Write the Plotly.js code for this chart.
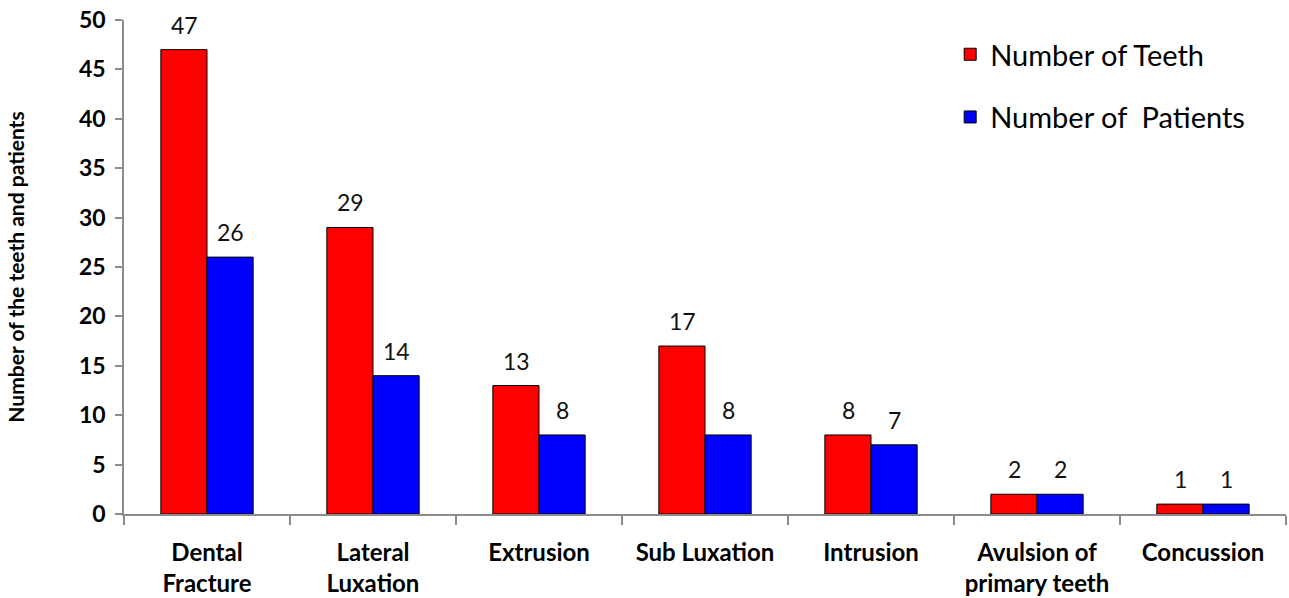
<!DOCTYPE html>
<html><head><meta charset="utf-8">
<script src="https://cdn.plot.ly/plotly-3.0.1.min.js"></script>
<style>body{margin:0;background:#fff}#chart{width:1289px;height:598px}</style>
</head><body><div id="chart"></div>
<script>
const categories = ["Dental<br>Fracture","Lateral<br>Luxation","Extrusion","Sub Luxation","Intrusion","Avulsion of<br>primary teeth","Concussion"];
const teeth = [47, 29, 13, 17, 8, 2, 1];
const patients = [26, 14, 8, 8, 7, 2, 1];
const seriesNames = ["Number of Teeth", "Number of  Patients"];
const yTicks = [0,5,10,15,20,25,30,35,40,45,50];

const FONT = "Lato, 'Open Sans', sans-serif";
const traces = [
  {type:'bar', x:categories, y:teeth, name:seriesNames[0], legendgroup:'a',
   marker:{color:'#ff0000', line:{color:'#000', width:1}}},
  {type:'bar', x:categories, y:patients, name:seriesNames[1], legendgroup:'b',
   marker:{color:'#0000ff', line:{color:'#000', width:1}}}
];
const annotations = [];
categories.forEach((c,i)=>{
  annotations.push({x:c, y:teeth[i], xref:'x', yref:'y', text:String(teeth[i]), showarrow:false,
    yanchor:'bottom', yshift:9, xshift:-23, font:{size:23, color:'#111', family:FONT}});
  annotations.push({x:c, y:patients[i], xref:'x', yref:'y', text:String(patients[i]), showarrow:false,
    yanchor:'bottom', yshift:9, xshift:23, font:{size:23, color:'#111', family:FONT}});
});
const layout = {
  width:1289, height:598,
  margin:{l:124, r:3, t:20, b:84},
  paper_bgcolor:'#fff', plot_bgcolor:'#fff',
  barmode:'group', bargap:0.444, bargroupgap:0,
  font:{family:FONT, color:'#000'},
  showlegend:true,
  legend:{x:0.711, y:0.982, xanchor:'left', yanchor:'top', traceorder:'grouped', tracegroupgap:22,
    font:{size:29, family:FONT, color:'#000'}, bgcolor:'rgba(0,0,0,0)', itemwidth:30},
  xaxis:{type:'category', showline:true, linecolor:'#8c8c8c', linewidth:1.5, ticks:'outside', tickson:'boundaries',
    ticklen:9, tickcolor:'#8c8c8c', tickwidth:1.5, showgrid:false, zeroline:false,
    tickfont:{size:24, family:FONT, color:'#000', weight:'bold'}, ticklabelstandoff:16, automargin:false},
  yaxis:{range:[0,50], tickvals:yTicks, showline:true, linecolor:'#8c8c8c', linewidth:1.5, ticks:'outside',
    ticklen:7, tickcolor:'#8c8c8c', tickwidth:1.5, showgrid:false, zeroline:false,
    tickfont:{size:23, family:FONT, color:'#000', weight:'bold'}, ticklabelstandoff:5,
    title:{text:'Number of the teeth and patients', font:{size:21, family:FONT, color:'#000', weight:'bold'}, standoff:49},
    automargin:false},
  annotations:annotations
};
Plotly.newPlot('chart', traces, layout, {displayModeBar:false, responsive:false});
</script></body></html>
